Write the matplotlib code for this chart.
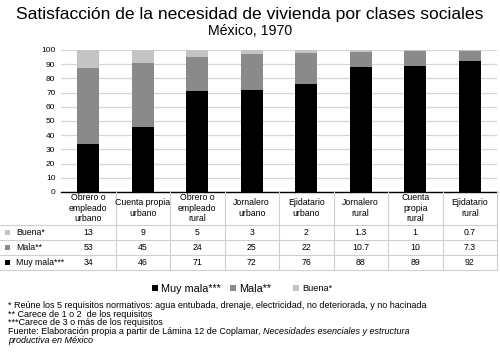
import matplotlib
matplotlib.use('Agg')
import matplotlib.pyplot as plt
import matplotlib.transforms as mtransforms
from matplotlib.patches import Rectangle
import numpy as np

plt.rcParams['font.family'] = ['Liberation Sans', 'DejaVu Sans']

categorias = ['Obrero o\nempleado\nurbano', 'Cuenta propia\nurbano', 'Obrero o\nempleado\nrural',
              'Jornalero\nurbano', 'Ejidatario\nurbano', 'Jornalero\nrural',
              'Cuenta\npropia\nrural', 'Ejidatario\nrural']
muy_mala = [34, 46, 71, 72, 76, 88, 89, 92]
mala = [53, 45, 24, 25, 22, 10.7, 10, 7.3]
buena = [13, 9, 5, 3, 2, 1.3, 1, 0.7]
etiquetas_buena = ['13', '9', '5', '3', '2', '1.3', '1', '0.7']
etiquetas_mala = ['53', '45', '24', '25', '22', '10.7', '10', '7.3']
etiquetas_muy_mala = ['34', '46', '71', '72', '76', '88', '89', '92']

c_muy = '#000000'
c_mala = '#8a8a8a'
c_buena = '#c4c4c4'

W, H = 500, 358
fig = plt.figure(figsize=(5, 3.58), dpi=100)
ax = fig.add_axes([61 / W, 1 - 192 / H, (497 - 61) / W, (192 - 50) / H])

x = np.arange(len(categorias))
ax.bar(x, muy_mala, 0.4, color=c_muy, zorder=3)
ax.bar(x, mala, 0.4, bottom=muy_mala, color=c_mala, zorder=3)
ax.bar(x, buena, 0.4, bottom=np.array(muy_mala) + np.array(mala), color=c_buena, zorder=3)

ax.set_xlim(-0.5, 7.5)
ax.set_ylim(0, 100)
ax.set_yticks(range(0, 101, 10))
ax.tick_params(axis='y', length=0, labelsize=6, pad=4)
ax.set_xticks([])
ax.yaxis.grid(True, color='#d6d6d6', linewidth=0.9, zorder=0)
for s in ['top', 'right', 'left']:
    ax.spines[s].set_visible(False)
ax.spines['bottom'].set_linewidth(1.0)

fy = lambda p: 1 - p / H
trans = mtransforms.blended_transform_factory(ax.transData, fig.transFigure)


def cuadro(px, py, s, col):
    # small square marker, px/py = top-left in pixels
    fig.add_artist(Rectangle((px / W, fy(py + s)), s / W, s / H, transform=fig.transFigure,
                             facecolor=col, edgecolor='none'))


# table lines
line_c = '#cfcfcf'
for yy in [225, 240, 255, 270]:
    fig.add_artist(plt.Line2D([0, 497 / W], [fy(yy), fy(yy)], transform=fig.transFigure,
                              color=line_c, linewidth=0.8))
for k in range(1, len(categorias) + 1):
    fig.add_artist(plt.Line2D([k - 0.5, k - 0.5], [fy(192), fy(270)], transform=trans,
                              color=line_c, linewidth=0.8))

for i, cat in enumerate(categorias):
    fig.text(i, fy(208), cat, transform=trans, ha='center', va='center',
             fontsize=6.3, linespacing=1.15)
    fig.text(i, fy(232.5), etiquetas_buena[i], transform=trans, ha='center', va='center', fontsize=6.3)
    fig.text(i, fy(247.5), etiquetas_mala[i], transform=trans, ha='center', va='center', fontsize=6.3)
    fig.text(i, fy(262.5), etiquetas_muy_mala[i], transform=trans, ha='center', va='center', fontsize=6.3)

for yy, lab, col in [(232.5, 'Buena*', c_buena), (247.5, 'Mala**', c_mala), (262.5, 'Muy mala***', c_muy)]:
    cuadro(5, yy - 2.5, 5, col)
    fig.text(16 / W, fy(yy), lab, ha='left', va='center', fontsize=6.3)

# title
fig.text(0.5, fy(14), 'Satisfacción de la necesidad de vivienda por clases sociales',
         ha='center', va='center', fontsize=12.6)
fig.text(0.5, fy(31), 'México, 1970', ha='center', va='center', fontsize=10.2)

# legend
for xx, lab, col, fs in [(152, 'Muy mala***', c_muy, 7.8), (230, 'Mala**', c_mala, 7.8),
                          (293, 'Buena*', c_buena, 6.6)]:
    cuadro(xx, 285, 6, col)
    fig.text((xx + 9) / W, fy(288.5), lab, ha='left', va='center', fontsize=fs)

# footnotes
fs_n = 6.5
notas = ['* Reúne los 5 requisitos normativos: agua entubada, drenaje, electricidad, no deteriorada, y no hacinada',
         '** Carece de 1 o 2  de los requisitos',
         '***Carece de 3 o más de los requisitos']
for j, n in enumerate(notas):
    fig.text(8 / W, fy(305.5 + 8.7 * j), n, ha='left', va='center', fontsize=fs_n)
t1 = fig.text(8 / W, fy(331.6), 'Fuente: Elaboración propia a partir de Lámina 12 de Coplamar, ',
              ha='left', va='center', fontsize=fs_n)
r = fig.canvas.get_renderer()
bb = t1.get_window_extent(renderer=r)
fig.text(bb.x1 / W, fy(331.6), 'Necesidades esenciales y estructura',
         ha='left', va='center', fontsize=fs_n, style='italic')
fig.text(8 / W, fy(340.3), 'productiva en México', ha='left', va='center', fontsize=fs_n, style='italic')

fig.savefig('out.png', dpi=100)
